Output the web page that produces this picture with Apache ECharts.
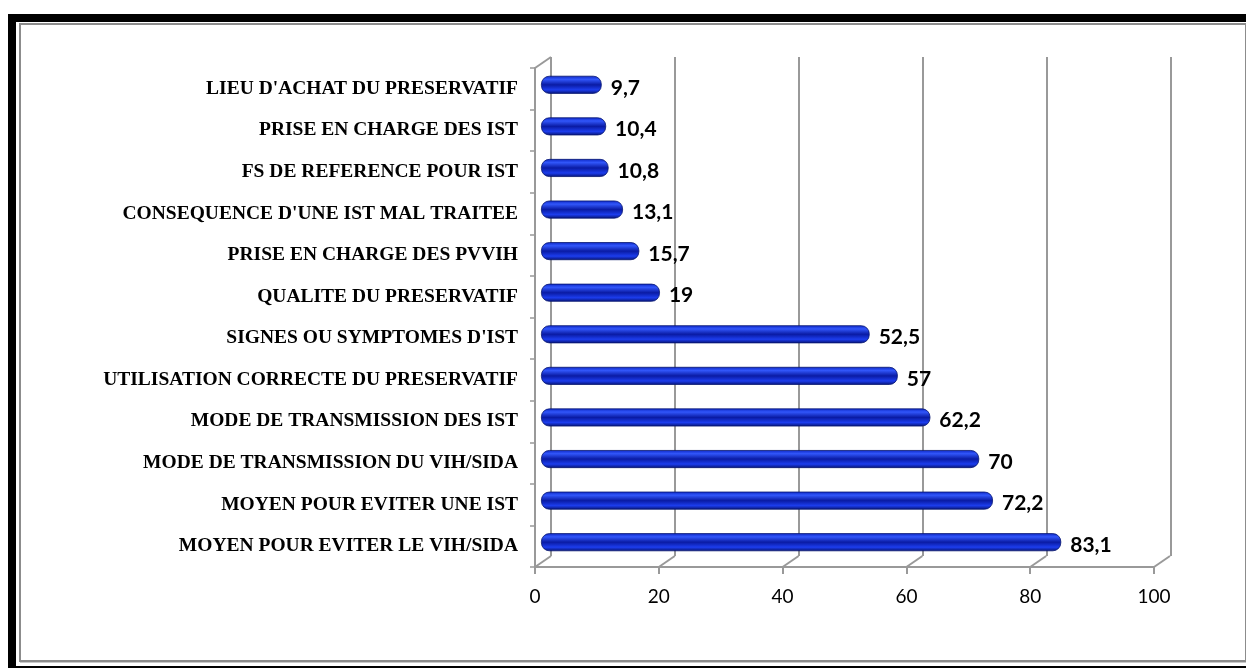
<!DOCTYPE html>
<html>
<head>
<meta charset="utf-8">
<script src="https://cdn.jsdelivr.net/npm/echarts@6/dist/echarts.min.js"></script>
<style>
  html, body { margin: 0; padding: 0; background: #fff; }
  #frame-black {
    position: absolute; left: 8px; top: 14px; width: 1230px; height: 644px;
    border-left: 8px solid #000; border-top: 8px solid #000; border-bottom: 2px solid #000;
  }
  #frame-grey {
    position: absolute; left: 19px; top: 23px; width: 1224px; height: 635px;
    border: 2px solid #8c8c8c; box-shadow: 1px 1px 0 #c8c8c8;
  }
  #chart { position: absolute; left: 0; top: 0; width: 1246px; height: 668px; }
</style>
</head>
<body>
<div id="frame-black"></div>
<div id="frame-grey"></div>
<div id="chart"></div>
<script>
// themes, top to bottom as in the picture
var categories = [
  "LIEU D'ACHAT DU PRESERVATIF",
  'PRISE EN CHARGE DES IST',
  'FS DE REFERENCE POUR IST',
  "CONSEQUENCE D'UNE IST MAL TRAITEE",
  'PRISE EN CHARGE DES PVVIH',
  'QUALITE DU PRESERVATIF',
  "SIGNES OU SYMPTOMES D'IST",
  'UTILISATION CORRECTE DU PRESERVATIF',
  'MODE DE TRANSMISSION DES IST',
  'MODE DE TRANSMISSION DU VIH/SIDA',
  'MOYEN POUR EVITER UNE IST',
  'MOYEN POUR EVITER LE VIH/SIDA'
];
var values = [9.7, 10.4, 10.8, 13.1, 15.7, 19, 52.5, 57, 62.2, 70, 72.2, 83.1];
var xTicks = [0, 20, 40, 60, 80, 100];

var depth = [16, -11]; // shift from front plane to back wall
var lineGrey = '#999999';

var chart = echarts.init(document.getElementById('chart'));

var barColor = new echarts.graphic.LinearGradient(0, 0, 0, 1, [
  { offset: 0, color: '#0c26c4' },
  { offset: 0.2, color: '#3156fa' },
  { offset: 0.5, color: '#0a1ba4' },
  { offset: 0.78, color: '#1c3ded' },
  { offset: 1, color: '#061272' }
]);

function hiddenCat(i) {
  return { type: 'category', gridIndex: i, data: categories, inverse: true, show: false };
}

var option = {
  animation: false,
  grid: [
    { left: 535, top: 68, width: 619, height: 499 },  // front plane
    { left: 551, top: 57, width: 620, height: 499 },  // back wall
    { left: 541, top: 64, width: 626, height: 499 }   // bars
  ],
  xAxis: [
    {
      type: 'value', gridIndex: 0, min: 0, max: 100, interval: 20,
      axisLine: { show: true, lineStyle: { color: lineGrey, width: 2 } },
      axisTick: { show: true, length: 7, lineStyle: { color: lineGrey, width: 2 } },
      axisLabel: { color: '#000', fontFamily: 'Lato', fontSize: 19, margin: 20 },
      splitLine: { show: false }
    },
    {
      type: 'value', gridIndex: 1, min: 0, max: 100, interval: 20,
      axisLine: { show: false }, axisTick: { show: false }, axisLabel: { show: false },
      splitLine: { show: true, lineStyle: { color: lineGrey, width: 2 } }
    },
    { type: 'value', gridIndex: 2, min: 0, max: 100, show: false }
  ],
  yAxis: [
    {
      type: 'category', gridIndex: 0, data: categories, inverse: true,
      axisLine: { show: true, lineStyle: { color: lineGrey, width: 2 } },
      axisTick: { show: true, length: 5, lineStyle: { color: lineGrey, width: 1.5 } },
      axisLabel: {
        color: '#000', fontFamily: 'Liberation Serif', fontWeight: 'bold',
        fontSize: 19.5, margin: 17
      }
    },
    hiddenCat(1),
    hiddenCat(2)
  ],
  series: [
    {
      // floor and top-left edges joining front plane to back wall
      type: 'custom',
      xAxisIndex: 0, yAxisIndex: 0,
      silent: true, z: 1,
      data: xTicks.map(function (t) { return [t]; }),
      renderItem: function (params, api) {
        var x = api.value(0);
        var half = api.size([0, 1])[1] / 2;
        var pb = api.coord([x, categories.length - 1]);
        var style = { stroke: lineGrey, lineWidth: 2 };
        var kids = [{
          type: 'line',
          shape: { x1: pb[0], y1: pb[1] + half, x2: pb[0] + depth[0], y2: pb[1] + half + depth[1] },
          style: style
        }];
        if (x === 0) {
          var pt = api.coord([0, 0]);
          kids.push({
            type: 'line',
            shape: { x1: pt[0], y1: pt[1] - half, x2: pt[0] + depth[0], y2: pt[1] - half + depth[1] },
            style: style
          });
        }
        return { type: 'group', children: kids };
      }
    },
    {
      type: 'bar',
      xAxisIndex: 2, yAxisIndex: 2,
      data: values,
      barWidth: 18,
      z: 3,
      itemStyle: {
        color: barColor,
        borderColor: '#071670',
        borderWidth: 0.8,
        borderRadius: 8
      },
      label: {
        show: true,
        position: 'right',
        distance: 9,
        offset: [0, 3],
        color: '#000',
        fontFamily: 'Lato',
        fontWeight: 'bold',
        fontSize: 21,
        formatter: function (p) { return String(p.value).replace('.', ','); }
      }
    }
  ]
};

chart.setOption(option);
</script>
</body>
</html>
